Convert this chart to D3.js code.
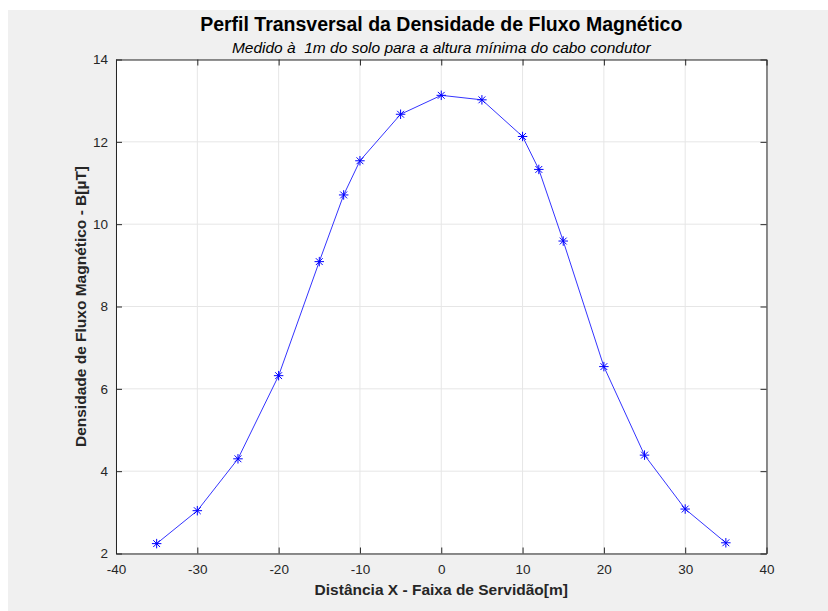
<!DOCTYPE html>
<html>
<head>
<meta charset="utf-8">
<script src="https://cdn.jsdelivr.net/npm/d3@7"></script>
<style>
body{margin:0;background:#fff;}
#canvas{width:828px;height:611px;}
text{font-family:"Liberation Sans",Arial,sans-serif;}
</style>
</head>
<body>
<div id="canvas"></div>
<script>
// distance from the axis [m]
var distX = [-35,-30,-25,-20,-15,-12,-10,-5,0,5,10,12,15,20,25,30,35];
// flux density [uT]
var fluxB = [2.24,3.04,4.30,6.32,9.09,10.71,11.54,12.67,13.13,13.02,12.13,11.33,9.59,6.54,4.39,3.08,2.26];
var xTicks = [-40,-30,-20,-10,0,10,20,30,40];
var yTicks = [2,4,6,8,10,12,14];

var W = 828, H = 611;
var margin = {t:59.5,r:61.5,b:57.5,l:116};
var width = W - margin.l - margin.r,
    height = H - margin.t - margin.b;

var svg = d3.select('#canvas')
    .append('svg')
    .attr('width',W)
    .attr('height',H);

// figure background
svg.append('rect')
    .attr('x',8).attr('y',10)
    .attr('width',W-8).attr('height',H-10)
    .style('fill','#f0f0f0');

var plot = svg.append('g')
    .attr('transform','translate('+margin.l+','+margin.t+')');

var x = d3.scaleLinear().domain([-40,40]).range([0,width]);
var y = d3.scaleLinear().domain([2,14]).range([height,0]);

plot.append('rect')
    .attr('width',width).attr('height',height)
    .style('fill','#fff');

//grid
xTicks.forEach(function(t){
    plot.append('line')
        .attr('x1',x(t)).attr('x2',x(t))
        .attr('y1',0).attr('y2',height)
        .style('stroke','#e6e6e6').style('stroke-width','1px');
});
yTicks.forEach(function(t){
    plot.append('line')
        .attr('x1',0).attr('x2',width)
        .attr('y1',y(t)).attr('y2',y(t))
        .style('stroke','#e6e6e6').style('stroke-width','1px');
});

//axes (plain hyphen for negatives, like matlab)
var fmt = function(d){return String(d);};
var xAxis = plot.append('g')
    .attr('transform','translate(0,'+height+')')
    .call(d3.axisBottom(x).tickValues(xTicks).tickFormat(fmt).tickSizeInner(-6).tickSizeOuter(0).tickPadding(11));
var yAxis = plot.append('g')
    .call(d3.axisLeft(y).tickValues(yTicks).tickFormat(fmt).tickSizeInner(-6).tickSizeOuter(0).tickPadding(8));
var xTop = plot.append('g')
    .call(d3.axisTop(x).tickValues(xTicks).tickSizeInner(-6).tickSizeOuter(0).tickFormat(''));
var yRight = plot.append('g')
    .attr('transform','translate('+width+',0)')
    .call(d3.axisRight(y).tickValues(yTicks).tickSizeInner(-6).tickSizeOuter(0).tickFormat(''));

[xAxis,yAxis,xTop,yRight].forEach(function(a){
    a.select('.domain').style('stroke','#262626').style('stroke-width','1px');
    a.selectAll('.tick line').style('stroke','#262626');
    a.selectAll('.tick text')
        .style('font-size','13.5px')
        .style('fill','#262626')
        .style('font-family','"Liberation Sans",Arial,sans-serif');
});

//line + markers
var line = d3.line()
    .x(function(d,i){return x(distX[i]);})
    .y(function(d){return y(d);});

plot.append('path')
    .attr('d',line(fluxB))
    .style('fill','none')
    .style('stroke','#0000ff')
    .style('stroke-width','0.8px');

// matlab '*' = plus + cross
var starMark = {
    draw: function(ctx,size){
        var r = Math.sqrt(size)/2, d = r*0.72;
        ctx.moveTo(-r,0); ctx.lineTo(r,0);
        ctx.moveTo(0,-r); ctx.lineTo(0,r);
        ctx.moveTo(-d,-d); ctx.lineTo(d,d);
        ctx.moveTo(-d,d); ctx.lineTo(d,-d);
    }
};
plot.selectAll('.pt')
    .data(fluxB)
    .enter()
    .append('path')
    .attr('class','pt')
    .attr('d',d3.symbol().type(starMark).size(90))
    .attr('transform',function(d,i){return 'translate('+x(distX[i])+','+y(d)+')';})
    .style('fill','none')
    .style('stroke','#0000ff')
    .style('stroke-width','1px');

//titles
svg.append('text')
    .attr('x',margin.l+width/2).attr('y',31)
    .attr('text-anchor','middle')
    .style('font-size','19.5px').style('font-weight','bold').style('fill','#000')
    .text('Perfil Transversal da Densidade de Fluxo Magnético');

svg.append('text')
    .attr('x',margin.l+width/2).attr('y',53)
    .attr('text-anchor','middle')
    .attr('xml:space','preserve')
    .style('white-space','pre')
    .style('font-size','15.5px').style('font-style','italic').style('fill','#000')
    .text('Medido à  1m do solo para a altura mínima do cabo condutor');

svg.append('text')
    .attr('x',margin.l+width/2).attr('y',595)
    .attr('text-anchor','middle')
    .style('font-size','15.5px').style('font-weight','bold').style('fill','#262626')
    .text('Distância X - Faixa de Servidão[m]');

svg.append('text')
    .attr('transform','translate(86,'+(margin.t+height/2)+') rotate(-90)')
    .attr('text-anchor','middle')
    .style('font-size','15.5px').style('font-weight','bold').style('fill','#262626')
    .text('Densidade de Fluxo Magnético - B[µT]');
</script>
</body>
</html>
